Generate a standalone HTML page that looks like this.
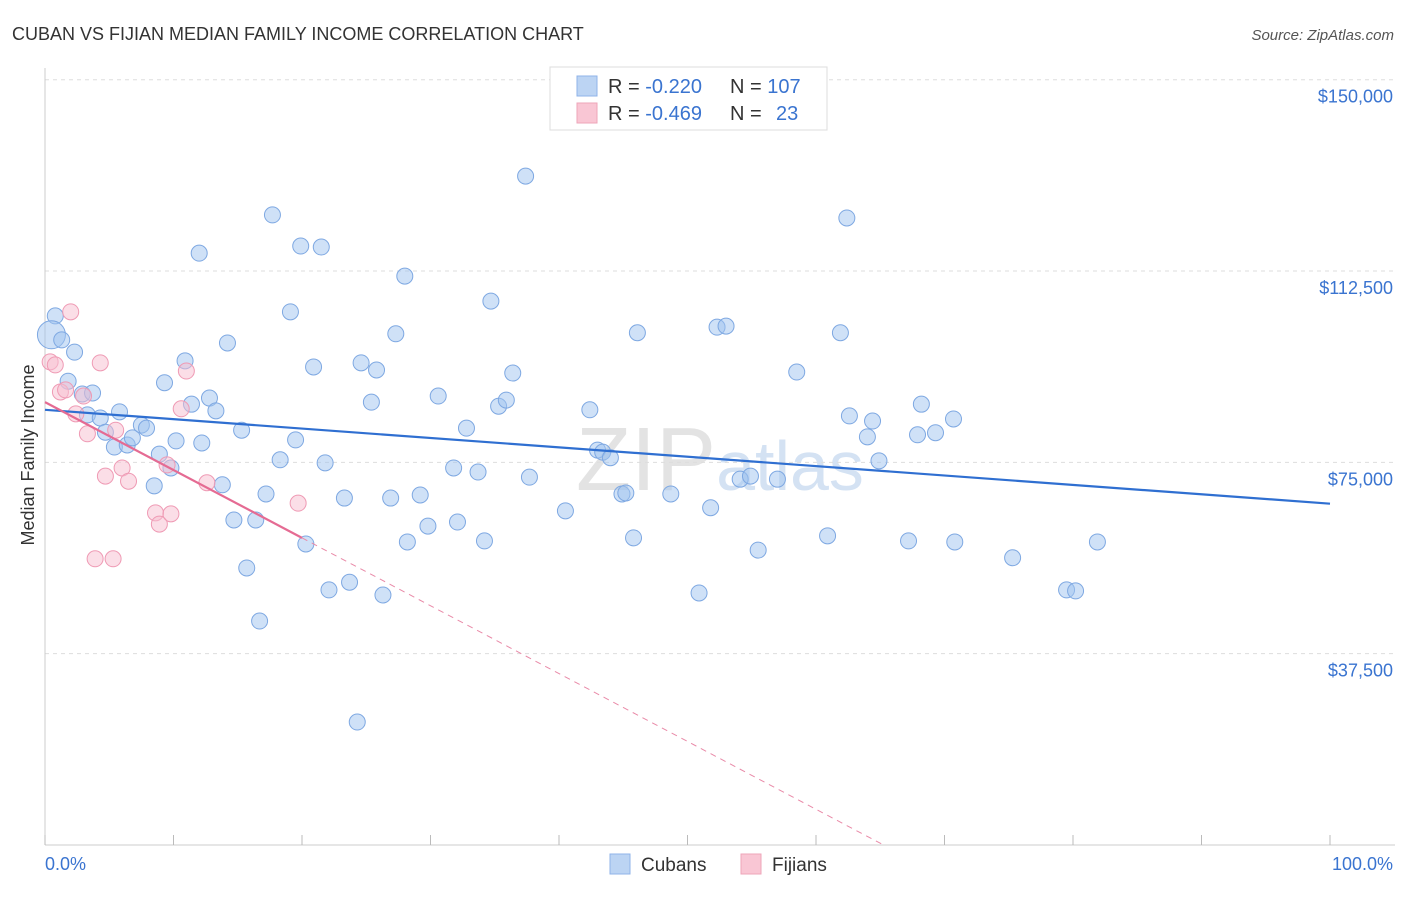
<!DOCTYPE html>
<html><head><meta charset="utf-8"><style>
body{margin:0;background:#fff;font-family:"Liberation Sans",sans-serif;}
svg text{font-family:"Liberation Sans",sans-serif;}
</style></head><body>
<svg id="chart" width="1406" height="892" xmlns="http://www.w3.org/2000/svg">
<text x="12" y="40" font-size="18" fill="#333">CUBAN VS FIJIAN MEDIAN FAMILY INCOME CORRELATION CHART</text>
<text x="1394" y="40" font-size="15" fill="#555" font-style="italic" text-anchor="end">Source: ZipAtlas.com</text>
<text x="720" y="490" font-size="90" fill="#e3e3e3" text-anchor="middle" font-family="Liberation Serif">ZIP<tspan fill="#d4e2f3" font-family="Liberation Sans" font-size="70">atlas</tspan></text>
<text transform="translate(34,455) rotate(-90)" font-size="18" fill="#333" text-anchor="middle">Median Family Income</text>
<g id="grid"></g><g id="pts"></g><g id="trend"></g>
<g>
<rect x="550" y="67" width="277" height="63" fill="#fff" stroke="#ddd"/>
<rect x="577" y="76" width="20" height="20" fill="#bcd4f3" stroke="#8fb3e8"/>
<rect x="577" y="103" width="20" height="20" fill="#f9c6d4" stroke="#eea5b9"/>
<text x="608" y="93" font-size="20" fill="#333">R = <tspan fill="#3a74d0">-0.220</tspan><tspan x="730">N = </tspan><tspan fill="#3a74d0">107</tspan></text>
<text x="608" y="120" font-size="20" fill="#333">R = <tspan fill="#3a74d0">-0.469</tspan><tspan x="730">N = </tspan><tspan fill="#3a74d0" x="776">23</tspan></text>
</g>
<g>
<rect x="610" y="854" width="20" height="20" fill="#bcd4f3" stroke="#8fb3e8"/>
<text x="641" y="871" font-size="19" fill="#333">Cubans</text>
<rect x="741" y="854" width="20" height="20" fill="#f9c6d4" stroke="#eea5b9"/>
<text x="772" y="871" font-size="19" fill="#333">Fijians</text>
</g>
<text x="45" y="870" font-size="18" fill="#3a74d0">0.0%</text>
<text x="1393" y="870" font-size="18" fill="#3a74d0" text-anchor="end">100.0%</text>
</svg>
<script>
const yTicks=[37500,75000,112500,150000];
const yTickLabels=["$37,500","$75,000","$112,500","$150,000"];
const cubanX=[0.8,0.5,1.3,2.3,1.8,2.9,3.7,3.3,4.3,4.7,5.8,5.4,6.4,6.8,7.5,7.9,8.9,8.5,9.3,9.8,10.2,10.9,11.4,12.0,12.2,12.8,13.3,13.8,14.2,14.7,15.3,15.7,16.4,16.7,17.2,17.7,18.3,19.1,19.5,19.9,20.3,20.9,21.5,21.8,22.1,23.3,23.7,24.3,24.6,25.4,25.8,26.3,26.9,27.3,28.0,28.2,29.2,29.8,30.6,31.8,32.1,32.8,33.7,34.2,34.7,35.3,35.9,36.4,37.4,37.7,40.5,42.4,43.0,43.4,44.0,44.9,45.2,45.8,46.1,48.7,50.9,51.8,52.3,53.0,54.1,54.9,55.5,57.0,58.5,60.9,61.9,62.4,62.6,64.0,64.4,64.9,67.2,67.9,68.2,69.3,70.7,70.8,75.3,79.5,80.2,81.9];
const cubanY=[103.7,100.0,99.0,96.6,90.9,88.4,88.6,84.3,83.7,80.9,84.9,78.0,78.4,79.8,82.3,81.7,76.6,70.4,90.6,73.9,79.2,94.9,86.4,116.0,78.8,87.6,85.1,70.6,98.4,63.7,81.3,54.3,63.7,43.9,68.8,123.5,75.5,104.5,79.4,117.4,59.0,93.7,117.2,74.9,50.0,68.0,51.5,24.1,94.5,86.8,93.1,49.0,68.0,100.2,111.5,59.4,68.6,62.5,88.0,73.9,63.3,81.7,73.1,59.6,106.6,86.0,87.2,92.5,131.1,72.1,65.5,85.3,77.4,77.0,75.9,68.8,69.0,60.2,100.4,68.8,49.4,66.1,101.5,101.7,71.7,72.3,57.8,71.7,92.7,60.6,100.4,122.9,84.1,80.0,83.1,75.3,59.6,80.4,86.4,80.8,83.5,59.4,56.3,50.0,49.8,59.4];
const fijianX=[0.4,0.8,2.0,1.2,1.6,2.4,3.0,3.3,4.3,4.7,5.5,6.0,6.5,8.6,8.9,9.5,9.8,10.6,11.0,12.6,19.7,3.9,5.3];
const fijianY=[94.7,94.1,104.5,88.8,89.2,84.5,88.0,80.6,94.5,72.3,81.3,73.9,71.3,65.1,62.9,74.5,64.9,85.5,92.9,71.0,67.0,56.1,56.1];
const cubanTrend=[85.3,66.9];
const fijianTrend=[86.8,60.2];
const NS="http://www.w3.org/2000/svg";
const xs=p=>45+p*12.85;
const ys=v=>845-v/196*1000/1000*1000/1000*1;
function yk(k){return 845-k*1000/196;}
function mk(t,a,p){const e=document.createElementNS(NS,t);for(const k in a)e.setAttribute(k,a[k]);p.appendChild(e);return e;}
const grid=document.getElementById('grid');
yTicks.forEach((v,i)=>{const y=yk(v/1000);
const l=mk('line',{x1:45,x2:1395,y1:y,y2:y,stroke:'#ddd','stroke-dasharray':'4,4'},grid);


const t=mk('text',{x:1393,y:y+23,'font-size':18,fill:'#3a74d0','text-anchor':'end'},grid);t.textContent=yTickLabels[i];

});
mk('line',{x1:45,x2:45,y1:68,y2:845,stroke:'#ccc'},grid);
mk('line',{x1:45,x2:1395,y1:845,y2:845,stroke:'#ccc'},grid);
for(let i=0;i<=10;i++){const tk=mk('line',{x1:xs(i*10),x2:xs(i*10),y1:835,y2:845,stroke:'#bbb'},grid);

}
const pts=document.getElementById('pts');
cubanX.forEach((x,i)=>{const c=mk('circle',{cx:xs(x),cy:yk(cubanY[i]),r:i==1?14:8,fill:'rgba(160,195,240,0.5)',stroke:'#7ea8e2','stroke-width':1},pts);

});
fijianX.forEach((x,i)=>{const c=mk('circle',{cx:xs(x),cy:yk(fijianY[i]),r:8,fill:'rgba(248,190,208,0.5)',stroke:'#ef9ab4','stroke-width':1},pts);

});
const tr=document.getElementById('trend');
const bl=mk('line',{x1:xs(0),y1:yk(cubanTrend[0]),x2:xs(100),y2:yk(cubanTrend[1]),stroke:'#2f6fd1','stroke-width':2.2},tr);


const sl=(fijianTrend[1]-fijianTrend[0])/20;const x0=-fijianTrend[0]/sl;
const pd=mk('line',{x1:xs(20),y1:yk(fijianTrend[1]),x2:xs(x0),y2:yk(0),stroke:'#e98aa8','stroke-width':1,'stroke-dasharray':'6,5'},tr);


const pl=mk('line',{x1:xs(0),y1:yk(fijianTrend[0]),x2:xs(20),y2:yk(fijianTrend[1]),stroke:'#e56b93','stroke-width':2.2},tr);


</script>
</body></html>
